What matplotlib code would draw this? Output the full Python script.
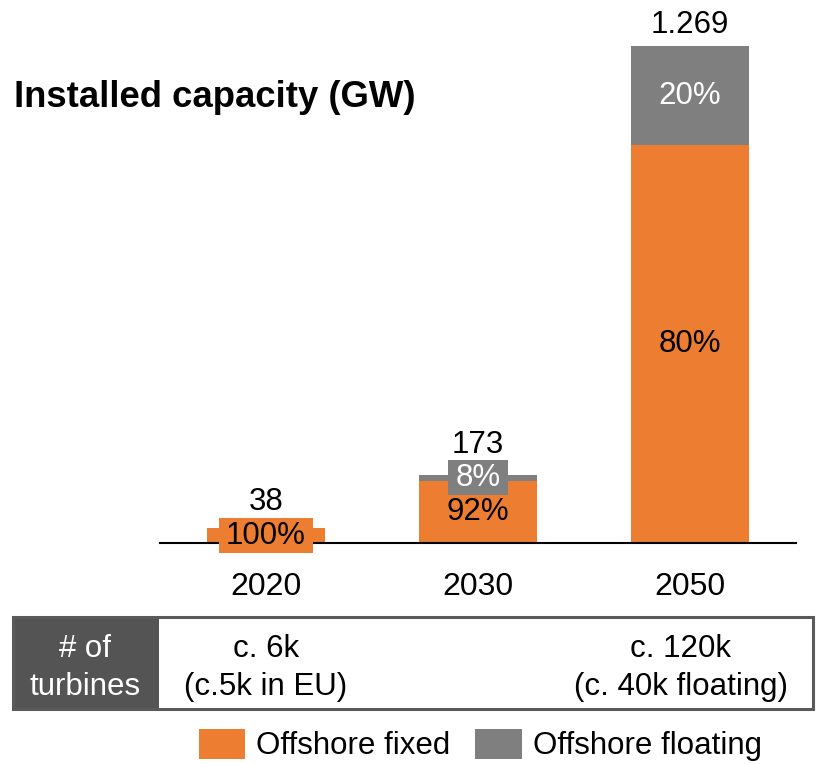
import matplotlib
matplotlib.use('Agg')
import matplotlib.pyplot as plt
from matplotlib.patches import Rectangle
from matplotlib.path import Path

plt.rcParams['font.family'] = ['Liberation Sans', 'DejaVu Sans']

# ---- data ----
years = ['2020', '2030', '2050']
totals = [38, 173, 1269]
total_labels = ['38', '173', '1.269']
fixed_share = [100, 92, 80]
floating_share = [0, 8, 20]
series_names = ['Offshore fixed', 'Offshore floating']
table_header = ['# of', 'turbines']
turbines_line1 = ['c. 6k', 'c. 120k']
turbines_line2 = ['(c.5k in EU)', '(c. 40k floating)']

fixed = [t * s / 100 for t, s in zip(totals, fixed_share)]
floating = [t * s / 100 for t, s in zip(totals, floating_share)]

# ---- style ----
ORANGE = '#ED7D31'
GRAY = '#7F7F7F'
DARK = '#545454'
BORDER = '#5A5A5A'
FS = 22.5
total_pad_pt = [13, 16, 9.4]
table_col_px = [266, 681]

W, H = 816, 764
fig = plt.figure(figsize=(W / 100, H / 100), dpi=100)


def fx(px):
    return px / W


def fy(py):
    return 1 - py / H


def label_box(x0, y0, width, height, mutation_size):
    px = 0.23 * mutation_size
    py = 0.08 * mutation_size
    return Path([(x0 - px, y0 - py), (x0 + width + px, y0 - py),
                 (x0 + width + px, y0 + height + py), (x0 - px, y0 + height + py),
                 (x0 - px, y0 - py)], closed=True)


ax = fig.add_axes([fx(160), fy(543), fx(796) - fx(160), fy(0) - fy(543)])
xs = list(range(len(years)))
bw = 0.557
ax.bar(xs, fixed, width=bw, color=ORANGE, zorder=2)
ax.bar(xs, floating, bottom=fixed, width=bw, color=GRAY, zorder=2)
ax.set_xlim(-0.5, 2.5)
ax.set_ylim(0, 1386)
for s in ['top', 'right', 'left']:
    ax.spines[s].set_visible(False)
ax.spines['bottom'].set_linewidth(1.5)
ax.spines['bottom'].set_color('black')
ax.spines['bottom'].set_zorder(2.5)
ax.set_yticks([])
ax.set_xticks(xs, years)
ax.tick_params(axis='x', length=0, pad=21, labelsize=23)

# segment percentage labels
for i in xs:
    segs = [(0, fixed[i], fixed_share[i], ORANGE, 'black'),
            (fixed[i], floating[i], floating_share[i], GRAY, 'white')]
    for bottom, h, share, fc, tc in segs:
        if share <= 0:
            continue
        ax.text(i, bottom + h / 2, f'{share}%', ha='center', va='center',
                fontsize=FS, color=tc, zorder=4,
                bbox=dict(boxstyle=label_box, fc=fc, ec='none'))
    ax.annotate(total_labels[i], xy=(i, totals[i]), xytext=(0, total_pad_pt[i]),
                textcoords='offset points', ha='center', va='baseline',
                fontsize=FS, color='black', zorder=4)

# title
fig.text(fx(14), fy(107), 'Installed capacity (GW)', fontsize=26.3,
         fontweight='bold', ha='left', va='baseline')

# table
fig.patches.append(Rectangle((fx(12), fy(710)), fx(159) - fx(12), fy(616) - fy(710),
                             transform=fig.transFigure, fc=DARK, ec='none', zorder=1))
fig.patches.append(Rectangle((fx(13), fy(709)), fx(813) - fx(13), fy(617) - fy(709),
                             transform=fig.transFigure, fill=False, ec=BORDER,
                             lw=2.2, zorder=2))
fig.text(fx(85), fy(657), table_header[0], ha='center', va='baseline',
         fontsize=FS, color='white')
fig.text(fx(85), fy(695), table_header[1], ha='center', va='baseline',
         fontsize=FS, color='white')
for cx, l1, l2 in zip(table_col_px, turbines_line1, turbines_line2):
    fig.text(fx(cx), fy(657), l1, ha='center', va='baseline',
             fontsize=FS, color='black')
    fig.text(fx(cx), fy(695), l2, ha='center', va='baseline',
             fontsize=FS, color='black')

# legend
handles = [Rectangle((0, 0), 1, 1, fc=ORANGE, ec='none'),
           Rectangle((0, 0), 1, 1, fc=GRAY, ec='none')]
fig.legend(handles, series_names, loc='center left',
           bbox_to_anchor=(fx(199), fy(745)), ncol=2, frameon=False,
           fontsize=FS, handlelength=1.48, handleheight=1.1,
           handletextpad=0.35, columnspacing=0.8, borderpad=0,
           borderaxespad=0)

fig.savefig('out.png', dpi=100)
